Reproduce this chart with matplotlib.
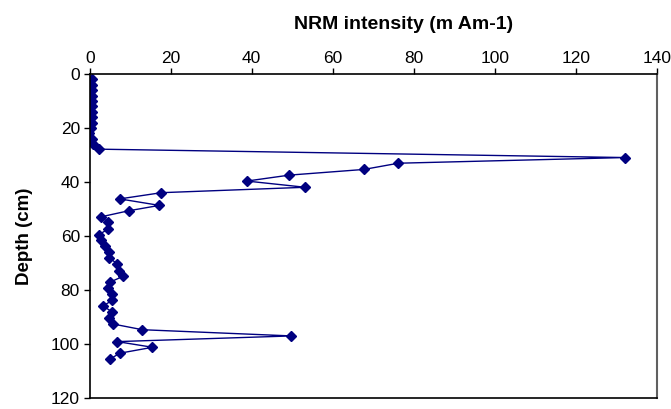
import matplotlib
matplotlib.use("Agg")
import matplotlib.pyplot as plt

# NRM intensity vs depth
depth = [2, 4, 6, 8, 10, 12, 14, 16, 18, 20, 22, 24, 26, 27.8,
         30.9, 33.0, 35.3, 37.4, 39.6, 41.9, 43.9, 46.2, 48.6, 50.6,
         52.8, 54.9, 57.4, 59.4, 61.5, 63.7, 65.9, 68.0, 70.2, 72.7,
         74.8, 77.0, 79.0, 81.3, 83.7, 85.8, 87.9, 90.1, 92.5, 94.6,
         96.9, 99.0, 101.1, 103.3, 105.4]
nrm = [0.5, 0.6, 0.6, 0.6, 0.6, 0.5, 0.6, 0.5, 0.5, 0.3, -0.2, 0.5, 0.8, 2.3,
       132.2, 76.2, 67.7, 49.3, 38.8, 53.2, 17.7, 7.4, 17.2, 9.6,
       2.9, 4.5, 4.5, 2.3, 2.9, 3.7, 4.7, 4.8, 6.8, 7.3,
       8.3, 5.0, 4.4, 5.5, 5.6, 3.3, 5.4, 4.7, 5.8, 13.0,
       49.8, 6.8, 15.5, 7.4, 5.1]

plt.rcParams['font.family'] = ['Liberation Sans', 'DejaVu Sans']

fig = plt.figure(figsize=(6.71, 4.09), dpi=100)
ax = fig.add_axes([0.1337, 0.026, 0.845, 0.793])

ax.plot(nrm, depth, color='#000080', lw=1, marker='D', markersize=5.5,
        markerfacecolor='#000080', markeredgecolor='#000080')

ax.set_xlim(0, 140)
ax.set_ylim(120, 0)
ax.set_xticks(range(0, 141, 20))
ax.set_yticks(range(0, 121, 20))
ax.xaxis.tick_top()
ax.xaxis.set_label_position('top')
ax.tick_params(axis='both', labelsize=12.5, direction='out', length=4, width=1)
ax.tick_params(axis='x', pad=2)
ax.tick_params(axis='y', pad=3)
ax.set_xlabel('NRM intensity (m Am-1)', fontsize=14, fontweight='bold')
ax.set_ylabel('Depth (cm)', fontsize=13.5, fontweight='bold')
ax.xaxis.set_label_coords(0.553, 1.14)
ax.yaxis.set_label_coords(-0.10, 0.5)

for s in ['left', 'top', 'bottom']:
    ax.spines[s].set_color('black')
    ax.spines[s].set_linewidth(1.2)
ax.spines['right'].set_color('#606060')
ax.spines['right'].set_linewidth(1.5)

fig.savefig('out.png', dpi=100)
